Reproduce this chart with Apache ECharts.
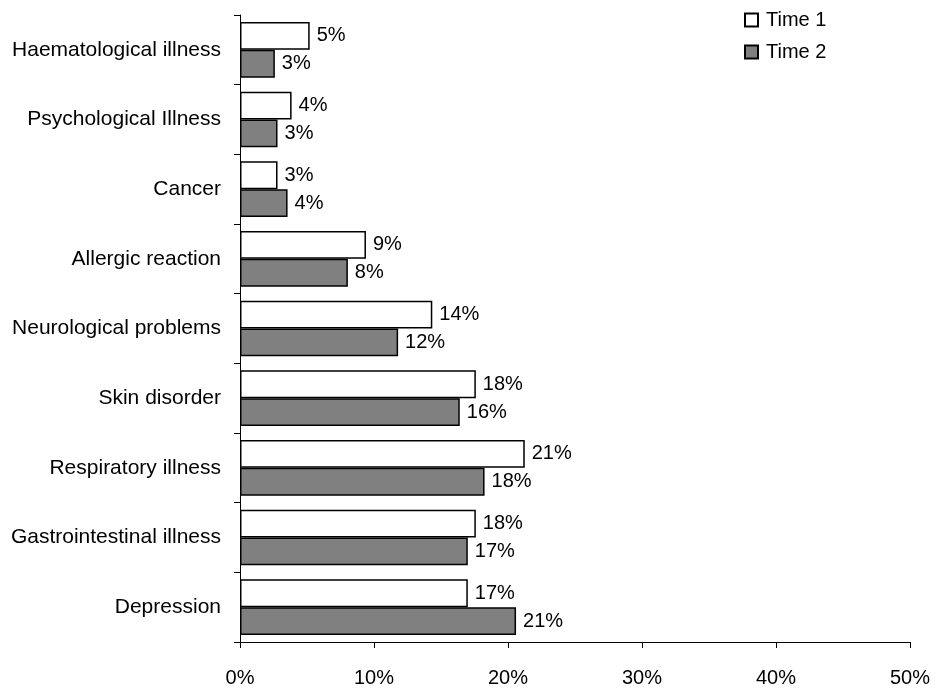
<!DOCTYPE html>
<html>
<head>
<meta charset="utf-8">
<script src="https://cdn.jsdelivr.net/npm/echarts@6/dist/echarts.min.js"></script>
<style>
  html, body { margin: 0; padding: 0; background: #fff; }
  #chart { width: 936px; height: 688px; }
</style>
</head>
<body>
<div id="chart"></div>
<script>
const categories = [
  'Haematological illness',
  'Psychological Illness',
  'Cancer',
  'Allergic reaction',
  'Neurological problems',
  'Skin disorder',
  'Respiratory illness',
  'Gastrointestinal illness',
  'Depression'
];
const seriesNames = ['Time 1', 'Time 2'];
const time1 = [5.2, 3.85, 2.8, 9.4, 14.35, 17.6, 21.25, 17.6, 17.0];
const time2 = [2.6, 2.8, 3.55, 8.05, 11.8, 16.4, 18.25, 17.0, 20.6];
const xTicks = { min: 0, max: 50, interval: 10 };

const FONT = 'Liberation Sans, Arial, sans-serif';
const FS = 20;

const chart = echarts.init(document.getElementById('chart'), null, { renderer: 'canvas' });

function barSeries(name, data, color) {
  return {
    name: name,
    type: 'bar',
    data: data,
    barGap: '0%',
    barCategoryGap: '20%',
    itemStyle: { color: color, borderColor: '#000', borderWidth: 1.5 },
    label: {
      show: true,
      position: 'right',
      distance: 7,
      color: '#000',
      fontFamily: FONT,
      fontSize: FS,
      formatter: p => Math.round(p.value) + '%'
    },
    emphasis: { disabled: true },
    animation: false
  };
}

chart.setOption({
  backgroundColor: '#fff',
  animation: false,
  textStyle: { fontFamily: FONT },
  legend: {
    orient: 'vertical',
    left: 739,
    top: 5,
    itemWidth: 13,
    itemHeight: 13,
    itemGap: 12,
    icon: 'rect',
    textStyle: { color: '#000', fontFamily: FONT, fontSize: FS, padding: [0, 0, 0, 3] },
    data: seriesNames
  },
  grid: { left: 240, right: 26, top: 15, bottom: 46, containLabel: false },
  xAxis: {
    type: 'value',
    min: xTicks.min,
    max: xTicks.max,
    interval: xTicks.interval,
    axisLine: { show: true, lineStyle: { color: '#000', width: 1 } },
    axisTick: { show: true, length: 6, lineStyle: { color: '#000', width: 1 } },
    splitLine: { show: false },
    axisLabel: {
      color: '#000', fontFamily: FONT, fontSize: FS, margin: 26,
      formatter: '{value}%'
    }
  },
  yAxis: {
    type: 'category',
    inverse: true,
    data: categories,
    axisLine: { show: true, lineStyle: { color: '#000', width: 1 } },
    axisTick: { show: true, length: 6, alignWithLabel: false, lineStyle: { color: '#000', width: 1 } },
    axisLabel: { color: '#000', fontFamily: FONT, fontSize: 21, margin: 19 }
  },
  series: [
    barSeries(seriesNames[0], time1, '#ffffff'),
    barSeries(seriesNames[1], time2, '#808080')
  ]
});
</script>
</body>
</html>
